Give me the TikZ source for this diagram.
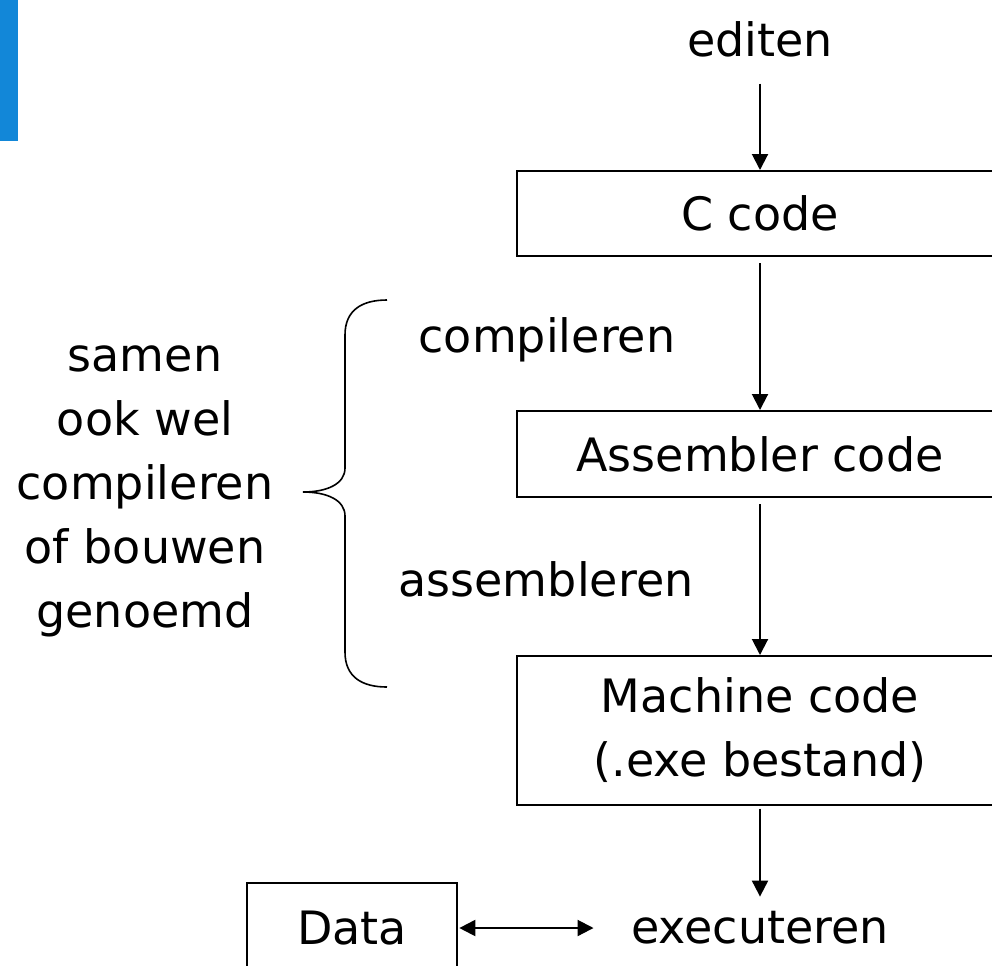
\documentclass[tikz,border=0pt]{standalone}
\usepackage{fontspec}
\setmainfont{DejaVu Sans}
\usetikzlibrary{arrows.meta}

\definecolor{sideblue}{RGB}{18,135,216}

\tikzset{
    codebox/.style={draw, line width=1.5pt, minimum width=364.5pt, inner sep=0pt, align=center},
    tip/.style={Triangle[length=12pt,width=12pt]},
    flow/.style={-{Triangle[length=12pt,width=12pt]}, line width=1.5pt},
    bigtext/.style={font=\fontsize{34.5}{48}\selectfont, inner sep=0pt}
}

\begin{document}
\begin{tikzpicture}[x=0.75pt, y=-0.75pt, every node/.append style={bigtext}]
        \useasboundingbox (0,0) rectangle (992,965);
        \clip (0,0) rectangle (992,965);
        \fill[sideblue] (0,0) rectangle (18,141);

        \node (editen) at (760,39) {editen};
        \node[codebox, minimum height=63.75pt] (ccode) at (760,213.5) {C code};
        \node[codebox, minimum height=64.5pt] (asm) at (760,454) {Assembler code};
        \node[codebox, minimum height=111.75pt] (machine) at (760,730.5) {Machine code\\(.exe bestand)};
        \node (exec) at (760,928) {executeren};
        \node[draw, line width=1.5pt, minimum width=157.5pt, minimum height=67.5pt] (data) at (352,928) {Data};

        \node (compile) at (547,340) {compileren};
        \node (assemble) at (546,579) {assembleren};
        \node[align=center] (samen) at (145,491) {samen\\ook wel\\compileren\\of bouwen\\genoemd};

        \draw[flow, shorten <=20pt] (editen) -- (ccode);
        \draw[flow, shorten <=4.5pt] (ccode) -- (asm);
        \draw[flow, shorten <=4.5pt] (asm) -- (machine);
        \draw[flow, shorten <=2pt, shorten >=11pt] (machine) -- (exec);
        \draw[{Triangle[length=12pt,width=12pt]}-{Triangle[length=12pt,width=12pt]}, line width=1.5pt, shorten <=1pt, shorten >=28pt] (data.east) -- (exec.west |- data.east);

        % accolade
        \draw[line width=1.2pt] (387,300) .. controls (362,300) and (345,310) .. (345,335) -- (345,468)
            .. controls (345,484) and (327,492) .. (303,492)
            .. controls (327,492) and (345,500) .. (345,516) -- (345,652)
            .. controls (345,677) and (362,687) .. (387,687);
    \end{tikzpicture}
\end{document}
